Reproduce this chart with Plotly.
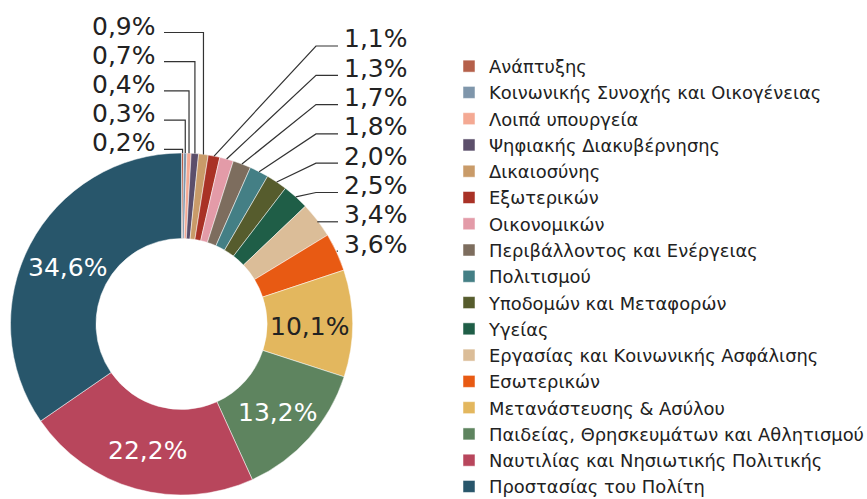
import math
import plotly.graph_objects as go

labels = [
    "Ανάπτυξης",
    "Κοινωνικής Συνοχής και Οικογένειας",
    "Λοιπά υπουργεία",
    "Ψηφιακής Διακυβέρνησης",
    "Δικαιοσύνης",
    "Εξωτερικών",
    "Οικονομικών",
    "Περιβάλλοντος και Ενέργειας",
    "Πολιτισμού",
    "Υποδομών και Μεταφορών",
    "Υγείας",
    "Εργασίας και Κοινωνικής Ασφάλισης",
    "Εσωτερικών",
    "Μετανάστευσης & Ασύλου",
    "Παιδείας, Θρησκευμάτων και Αθλητισμού",
    "Ναυτιλίας και Νησιωτικής Πολιτικής",
    "Προστασίας του Πολίτη",
]
values = [0.2, 0.3, 0.4, 0.7, 0.9, 1.1, 1.3, 1.7, 1.8, 2.0, 2.5, 3.4, 3.6, 10.1, 13.2, 22.2, 34.6]
colors = [
    "#B5604A", "#7F96AB", "#F4A993", "#5C4F6B", "#C99B69", "#A93226",
    "#E39BA8", "#7D6D5E", "#447F85", "#565C2D", "#1F5E47", "#DBBD98",
    "#E85A13", "#E3B75E", "#5E845F", "#B8465C", "#28566B",
]

W, H = 867, 499
CX, CY, R = 181.5, 324.0, 171.0
HOLE = 0.5
FONT = "DejaVu Sans"
TXT = "#222222"
LBL_SIZE = 25

def fmt(v):
    return f"{v:.1f}".replace(".", ",") + "%"

def px(x):
    return x / W

def py(y):
    return 1 - y / H

fig = go.Figure(go.Pie(
    labels=labels,
    values=values,
    sort=False,
    direction="clockwise",
    rotation=0,
    hole=HOLE,
    marker=dict(colors=colors, line=dict(color="white", width=0.5)),
    textinfo="none",
    domain=dict(x=[px(CX - R), px(CX + R)], y=[py(CY + R), py(CY - R)]),
    hoverinfo="label+percent",
))

total = sum(values)
mids = []
cum = 0.0
for v in values:
    mids.append((cum + v / 2) / total * 2 * math.pi)
    cum += v

def pt(theta, r):
    return CX + r * math.sin(theta), CY - r * math.cos(theta)

annotations = []
shapes = []
line_style = dict(color="#333333", width=1.2)

# inside labels for large slices
for i, v in enumerate(values):
    if v >= 10:
        x, y = pt(mids[i], R * (1 + HOLE) / 2)
        color = TXT if v < 12 else "white"
        annotations.append(dict(
            x=px(x), y=py(y + 3), xref="paper", yref="paper", text=fmt(v),
            showarrow=False, xanchor="center", yanchor="middle",
            font=dict(family=FONT, size=LBL_SIZE, color=color)))

# left column (smallest slices)
left_idx = [i for i, v in enumerate(values) if v < 1.0]
left_idx_top = list(reversed(left_idx))
for k, i in enumerate(left_idx_top):
    ty = 26 + 29.2 * k
    ly = ty + 6.5
    ox, oy = pt(mids[i], R)
    annotations.append(dict(
        x=px(158), y=py(ty), xref="paper", yref="paper", text=fmt(values[i]),
        showarrow=False, xanchor="right", yanchor="middle",
        font=dict(family=FONT, size=LBL_SIZE, color=TXT)))
    shapes.append(dict(
        type="path", xref="paper", yref="paper",
        path=f"M {px(164)} {py(ly)} L {px(ox)} {py(ly)} L {px(ox)} {py(oy)}",
        line=line_style))

# right column
right_idx = [i for i, v in enumerate(values) if 1.0 <= v < 10]
for k, i in enumerate(right_idx):
    ty = 39 + 29.3 * k
    ly = ty + 7
    ox, oy = pt(mids[i], R)
    annotations.append(dict(
        x=px(342), y=py(ty), xref="paper", yref="paper", text=fmt(values[i]),
        showarrow=False, xanchor="left", yanchor="middle",
        font=dict(family=FONT, size=LBL_SIZE, color=TXT)))
    if ox < 316:
        shapes.append(dict(
            type="path", xref="paper", yref="paper",
            path=f"M {px(ox)} {py(oy)} L {px(316)} {py(ly)} L {px(338)} {py(ly)}",
            line=line_style))
    elif ox < 338:
        shapes.append(dict(
            type="path", xref="paper", yref="paper",
            path=f"M {px(ox)} {py(ly)} L {px(338)} {py(ly)}",
            line=line_style))

fig.update_layout(
    width=W, height=H,
    margin=dict(l=0, r=0, t=0, b=0, autoexpand=False),
    paper_bgcolor="white",
    plot_bgcolor="white",
    showlegend=True,
    legend=dict(
        x=px(449), y=py(48), xanchor="left", yanchor="top",
        font=dict(family=FONT, size=17.9, color=TXT),
        bgcolor="rgba(0,0,0,0)", traceorder="normal",
    ),
    annotations=annotations,
    shapes=shapes,
)

fig.write_html(
    "out.html",
    config={"displayModeBar": False},
    post_script="document.body.style.margin='0';document.body.style.padding='0';",
)
